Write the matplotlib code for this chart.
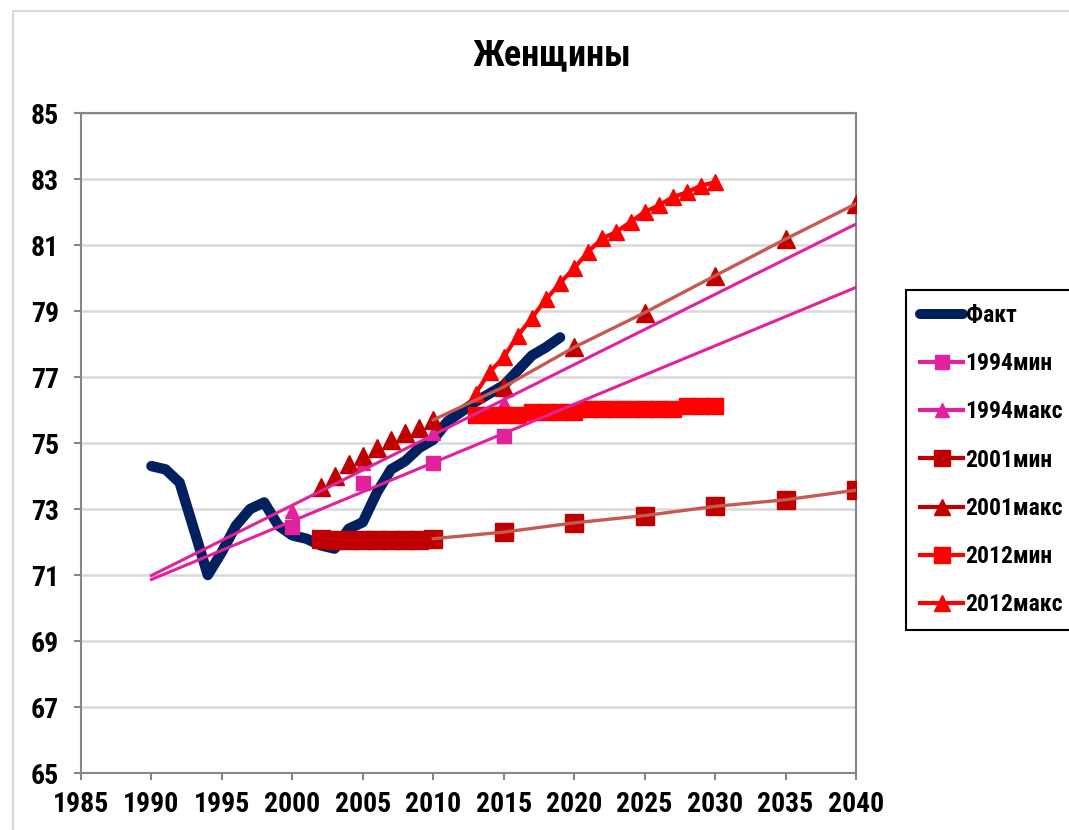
import numpy as np
import matplotlib
matplotlib.use("Agg")
import matplotlib.pyplot as plt
from matplotlib import font_manager as fm
from matplotlib.lines import Line2D
from matplotlib.patches import Rectangle

TITLE = "Женщины"

# observed
FACT_YEARS = list(range(1990, 2020))
FACT = [74.3, 74.2, 73.8, 72.4, 71.0, 71.7, 72.5, 73.0, 73.2, 72.5,
        72.2, 72.1, 71.9, 71.8, 72.4, 72.6, 73.5, 74.2, 74.45, 74.85,
        75.1, 75.65, 75.95, 76.25, 76.5, 76.75, 77.2, 77.65, 77.9, 78.2]

# 1994 forecast (markers + linear trend)
YEARS_1994 = [2000, 2005, 2010, 2015]
MIN_1994 = [72.45, 73.8, 74.4, 75.2]
MAX_1994 = [72.95, 74.4, 75.3, 76.2]
TREND_SPAN = [1990, 2040]

# 2001 forecast
YEARS_2001 = [2002, 2003, 2004, 2005, 2006, 2007, 2008, 2009, 2010,
              2015, 2020, 2025, 2030, 2035, 2040]
MIN_2001 = [72.1, 72.05, 72.05, 72.05, 72.05, 72.05, 72.05, 72.05, 72.1,
            72.3, 72.58, 72.8, 73.08, 73.28, 73.57]
MAX_2001 = [73.67, 74.0, 74.35, 74.6, 74.85, 75.1, 75.3, 75.45, 75.7,
            76.7, 77.9, 78.95, 80.07, 81.18, 82.25]
LINE_FROM_2001 = 2010

# 2012 forecast
YEARS_2012 = list(range(2013, 2031))
MIN_2012 = [75.84, 75.84, 75.84, 75.84, 75.93, 75.93, 75.93, 75.93, 76.04,
            76.04, 76.04, 76.04, 76.04, 76.04, 76.04, 76.11, 76.11, 76.11]
MAX_2012 = [76.5, 77.15, 77.6, 78.25, 78.8, 79.35, 79.85, 80.3, 80.8,
            81.2, 81.4, 81.7, 82.0, 82.2, 82.45, 82.6, 82.8, 82.9]

LABELS = ["Факт", "1994мин", "1994макс", "2001мин", "2001макс",
          "2012мин", "2012макс"]
X_TICKS = list(range(1985, 2041, 5))
Y_TICKS = list(range(65, 86, 2))

NAVY = "#002060"
MAGENTA = "#E2229C"
DARK_RED = "#C00000"
BROWN = "#C55A50"
RED = "#FF0000"
GRID = "#D9D9D9"
AXIS = "#868686"


def pick_font():
    """Narrow bold font if one is installed, otherwise Liberation Sans."""
    fonts = fm.fontManager.ttflist
    names = {f.name for f in fonts}
    for name, size in (("Liberation Sans Narrow", 21), ("Roboto Condensed", 20),
                       ("Open Sans Condensed", 20)):
        if name in names:
            return name, "normal", size
    if any(f.name == "DejaVu Sans" and f.stretch == "condensed" for f in fonts):
        return "DejaVu Sans", "condensed", 16.5
    return "Liberation Sans", "normal", 17


def trend(years, vals, span):
    k, b = np.polyfit(years, vals, 1)
    xs = np.array(span, dtype=float)
    return xs, k * xs + b


def main():
    family, stretch, fsize = pick_font()
    plt.rcParams["font.family"] = [family, "DejaVu Sans"]
    plt.rcParams["font.stretch"] = stretch
    plt.rcParams["font.weight"] = "bold"

    fig = plt.figure(figsize=(10.69, 8.30), dpi=100)
    ax = fig.add_axes([81 / 1069, 1 - 773 / 830, 775 / 1069, (773 - 113) / 830])

    # outer chart frame
    fig.add_artist(Rectangle((13 / 1069, -0.1), 1.2, 1.1 - 11 / 830,
                             transform=fig.transFigure, fill=False,
                             edgecolor=GRID, lw=1.5))

    ax.plot(FACT_YEARS, FACT, color=NAVY, lw=7.5, solid_capstyle="round",
            solid_joinstyle="round", zorder=2)

    # 1994: markers + trendlines
    ax.plot(YEARS_1994, MIN_1994, ls="none", marker="s", ms=9.5,
            color=MAGENTA, zorder=3)
    ax.plot(YEARS_1994, MAX_1994, ls="none", marker="^", ms=10,
            color=MAGENTA, zorder=3)
    for vals in (MIN_1994, MAX_1994):
        xs, ys = trend(YEARS_1994, vals, TREND_SPAN)
        ax.plot(xs, ys, color=MAGENTA, lw=2.2, zorder=5)

    # 2001
    ax.plot(YEARS_2001, MIN_2001, ls="none", marker="s", ms=12.5,
            color=DARK_RED, zorder=3)
    ax.plot(YEARS_2001, MAX_2001, ls="none", marker="^", ms=12.5,
            color=DARK_RED, zorder=3)
    y01 = np.array(YEARS_2001)
    sel = y01 >= LINE_FROM_2001
    for vals in (MIN_2001, MAX_2001):
        ax.plot(y01[sel], np.array(vals)[sel], color=BROWN, lw=2.4, zorder=5)

    # 2012
    ax.plot(YEARS_2012, MIN_2012, color=RED, lw=2.5, marker="s", ms=11.5,
            zorder=4)
    ax.plot(YEARS_2012, MAX_2012, color=RED, lw=3, marker="^", ms=11.5,
            zorder=4)

    ax.set_xlim(1985, 2040)
    ax.set_ylim(65, 85)
    ax.set_xticks(X_TICKS)
    ax.set_yticks(Y_TICKS)
    ax.tick_params(axis="both", direction="out", length=5, width=1.5,
                   color=AXIS, labelsize=fsize)
    ax.tick_params(axis="y", pad=11)
    ax.tick_params(axis="x", pad=8)
    ax.grid(axis="y", color=GRID, lw=1.8, zorder=0)
    ax.set_axisbelow(True)
    for sp in ax.spines.values():
        sp.set_color(AXIS)
        sp.set_linewidth(1.5)

    fig.text(552 / 1069, 1 - 55 / 830, TITLE, ha="center", va="center",
             fontsize=fsize * 1.3, fontweight="bold")

    handles = [
        Line2D([], [], color=NAVY, lw=7.2, solid_capstyle="round"),
        Line2D([], [], color=MAGENTA, lw=3, marker="s", ms=9.5),
        Line2D([], [], color=MAGENTA, lw=3, marker="^", ms=10),
        Line2D([], [], color=DARK_RED, lw=3, marker="s", ms=12),
        Line2D([], [], color=DARK_RED, lw=3, marker="^", ms=12),
        Line2D([], [], color=RED, lw=3, marker="s", ms=11),
        Line2D([], [], color=RED, lw=3, marker="^", ms=11),
    ]
    lsize = fsize - 3
    em = lsize * 100 / 72
    leg = fig.legend(handles, LABELS, loc="upper left",
                     bbox_to_anchor=(906 / 1069, 1 - 290 / 830),
                     prop={"size": lsize, "weight": "bold"},
                     frameon=True, fancybox=False,
                     edgecolor="black", framealpha=1, borderpad=0.6,
                     handlelength=43 / em, handletextpad=0.1,
                     labelspacing=(48.3 - em * 0.98) / em,
                     borderaxespad=0)
    leg.get_frame().set_linewidth(1.5)

    fig.savefig("out.png", dpi=100)
    plt.close(fig)


if __name__ == "__main__":
    main()
